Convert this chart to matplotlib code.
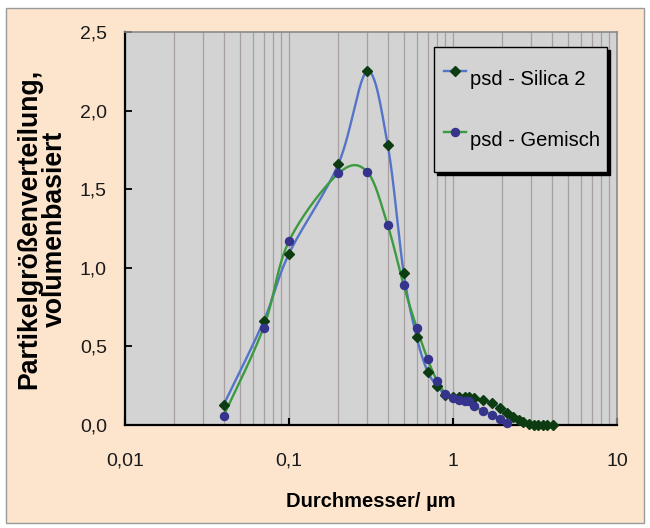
import numpy as np
import matplotlib
matplotlib.use("Agg")
import matplotlib.pyplot as plt
from matplotlib.lines import Line2D
from matplotlib.patches import Rectangle
from matplotlib.ticker import LogLocator, FixedLocator, NullFormatter

plt.rcParams['font.family'] = ['Liberation Sans', 'DejaVu Sans']

# ---- data ----
silica_x = [0.04, 0.07, 0.1, 0.2, 0.3, 0.4, 0.5, 0.6, 0.7, 0.8, 0.9,
            1.0, 1.09, 1.19, 1.25, 1.35, 1.53, 1.72, 1.94, 2.12,
            2.33, 2.54, 2.68, 2.92, 3.12, 3.31, 3.52, 3.76, 4.05]
silica_y = [0.13, 0.66, 1.09, 1.66, 2.25, 1.78, 0.97, 0.56, 0.34, 0.25, 0.19,
            0.18, 0.18, 0.18, 0.18, 0.17, 0.16, 0.14, 0.11, 0.075,
            0.05, 0.03, 0.017, 0.008, 0.003, 0.0, 0.0, 0.0, 0.0]
gemisch_x = [0.04, 0.07, 0.1, 0.2, 0.3, 0.4, 0.5, 0.6, 0.7, 0.8, 0.9,
             1.0, 1.09, 1.19, 1.25, 1.35, 1.53, 1.72, 1.94, 2.12]
gemisch_y = [0.06, 0.62, 1.17, 1.60, 1.61, 1.27, 0.89, 0.62, 0.42, 0.28, 0.20,
             0.17, 0.16, 0.15, 0.15, 0.12, 0.09, 0.065, 0.04, 0.01]
series_labels = ["psd - Silica 2", "psd - Gemisch"]
x_ticks = [0.01, 0.1, 1, 10]
x_ticklabels = ["0,01", "0,1", "1", "10"]
y_ticks = [0.0, 0.5, 1.0, 1.5, 2.0, 2.5]
y_ticklabels = ["0,0", "0,5", "1,0", "1,5", "2,0", "2,5"]
x_label = "Durchmesser/ µm"
y_label = "Partikelgrößenverteilung,\nvolumenbasiert"


def smooth(xs, ys, n=30):
    """Catmull-Rom smoothing in (log x, y) space, like a smoothed line."""
    lx = np.log10(np.asarray(xs, float))
    yy = np.asarray(ys, float)
    P = np.column_stack([lx, yy])
    P = np.vstack([P[0], P, P[-1]])
    out = []
    t = np.linspace(0, 1, n, endpoint=False)
    for i in range(1, len(P) - 2):
        p0, p1, p2, p3 = P[i - 1], P[i], P[i + 1], P[i + 2]
        c1 = p1 + (p2 - p0) / 6.0
        c2 = p2 - (p3 - p1) / 6.0
        seg = ((1 - t) ** 3)[:, None] * p1 + (3 * (1 - t) ** 2 * t)[:, None] * c1 \
            + (3 * (1 - t) * t ** 2)[:, None] * c2 + (t ** 3)[:, None] * p2
        out.append(seg)
    out.append(P[-2][None, :])
    out = np.vstack(out)
    return 10 ** out[:, 0], out[:, 1]


W, H = 650, 528
fig = plt.figure(figsize=(W / 100, H / 100), dpi=100)
fig.patch.set_facecolor("white")
fig.patches.append(Rectangle((6 / W, 1 - 523 / H), 638 / W, 515 / H,
                             transform=fig.transFigure, facecolor="#FDE5CD",
                             edgecolor="#9A9A9A", linewidth=1.0, zorder=-10))

ax = fig.add_axes([125 / W, 1 - 425 / H, 492 / W, 393 / H])
ax.set_facecolor("#D3D3D3")
ax.set_xscale("log")
ax.set_xlim(0.01, 10)
ax.set_ylim(0, 2.5)

blue = "#5474C8"
green = "#3C9B41"
dia_col = "#0E3C12"
circ_col = "#35338C"

sx, sy = smooth(silica_x, silica_y)
gx, gy = smooth(gemisch_x, gemisch_y)
ax.plot(sx, sy, color=blue, lw=1.7, zorder=3, clip_on=False)
ax.plot(gx, gy, color=green, lw=1.7, zorder=3, clip_on=False)
ax.plot(silica_x, silica_y, ls="none", marker="D", ms=5.4, color=dia_col,
        zorder=4, clip_on=False)
ax.plot(gemisch_x, gemisch_y, ls="none", marker="o", ms=5.8, color=circ_col,
        zorder=4, clip_on=False)

# ticks & grid
ax.xaxis.set_major_locator(FixedLocator(x_ticks))
ax.set_xticklabels(x_ticklabels)
ax.xaxis.set_minor_locator(LogLocator(base=10, subs=np.arange(2, 10)))
ax.xaxis.set_minor_formatter(NullFormatter())
ax.set_yticks(y_ticks)
ax.set_yticklabels(y_ticklabels)
ax.tick_params(axis="x", which="major", direction="in", length=5, width=1.5,
               pad=20, labelsize=14, colors="black", labelcolor="#1a1a1a")
ax.tick_params(axis="x", which="minor", length=0)
ax.tick_params(axis="y", which="major", direction="in", length=5, width=1.3,
               pad=13, labelsize=14, labelcolor="#1a1a1a")
ax.grid(True, axis="x", which="both", color="#A8A0A0", lw=0.9)
ax.set_axisbelow(True)

for s in ("left", "bottom"):
    ax.spines[s].set_color("black")
    ax.spines[s].set_linewidth(1.6)
for s in ("top", "right"):
    ax.spines[s].set_color("#8A8A8A")
    ax.spines[s].set_linewidth(1.2)

ax.set_xlabel(x_label, fontsize=14.5, fontweight="bold", labelpad=16)
ax.set_ylabel(y_label, fontsize=19.2, fontweight="bold", labelpad=9,
              linespacing=0.95)

handles = [Line2D([], [], color=blue, lw=1.7, marker="D", ms=5.4,
                  markerfacecolor=dia_col, markeredgecolor=dia_col),
           Line2D([], [], color=green, lw=1.7, marker="o", ms=5.8,
                  markerfacecolor=circ_col, markeredgecolor=circ_col)]
x0 = (434 - 125) / 492
wl = 173 / 492
ytop = (425 - 47) / 393
leg = ax.legend(handles, series_labels, loc="upper left",
                bbox_to_anchor=(x0, ytop - 0.5, wl, 0.5), mode="expand",
                borderaxespad=0, fontsize=14.5, frameon=True, fancybox=False,
                borderpad=0.5, handleheight=3.0, labelspacing=0.84,
                handlelength=1.1, handletextpad=0.2,
                shadow={"color": "black", "alpha": 1.0})
leg.get_frame().set_facecolor("#D3D3D3")
leg.get_frame().set_edgecolor("black")
leg.get_frame().set_linewidth(1.0)
leg.get_frame().set_alpha(1.0)

fig.savefig("out.png", dpi=100, facecolor=fig.get_facecolor())
